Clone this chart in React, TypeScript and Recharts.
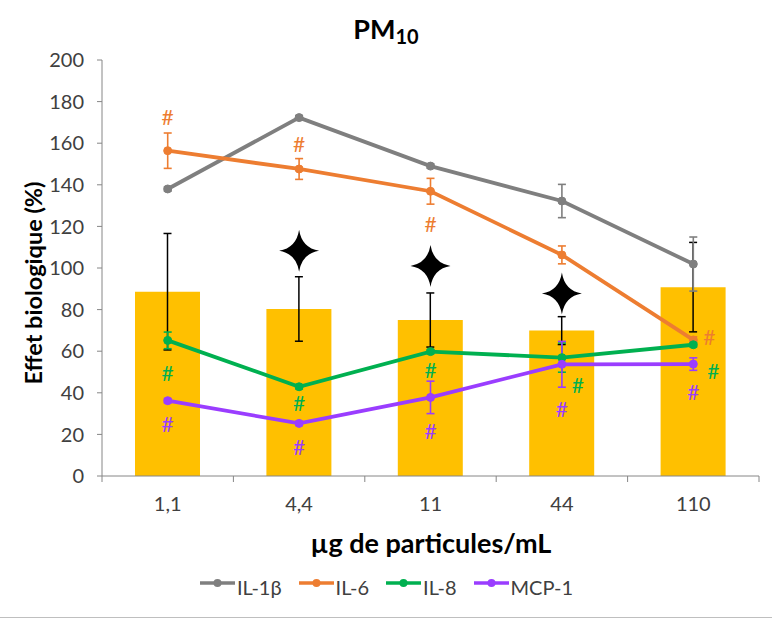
import React from 'react';
import { ComposedChart, Bar, Line, Scatter, XAxis, YAxis, ErrorBar } from 'recharts';

const categories = ['1,1', '4,4', '11', '44', '110'];
const barValues = [88.6, 80.3, 75, 69.9, 90.8];
const barErrors = [28, 15.5, 13, 6.7, 21.5];
const il1b = [138, 172.3, 149, 132.2, 101.9];
const il1bErr = [1, 1, 1, 8, 13];
const il6 = [156.4, 147.6, 136.9, 106.3, 65.4];
const il6Err = [8.5, 5, 6.2, 4.3, 1.5];
const il8 = [65.2, 42.9, 59.8, 56.9, 63.1];
const il8Err = [4, 1, 1, 7, 1];
const mcp1 = [36.2, 25.3, 37.8, 53.7, 53.8];
const mcp1Err = [1, 1, 7.8, 11, 3];
const stars = [null, 108.3, 101, 87.8, null];
const hashIl6 = [173, 160, 121.5, null, 67];
const hashIl8 = [50, 35.3, 51.3, 44.2, 50.6];
const hashMcp1 = [25.3, 14.4, 21.8, 32.5, 40.5];
const yTicks = [0, 20, 40, 60, 80, 100, 120, 140, 160, 180, 200];

const seriesNames = ['IL-1β', 'IL-6', 'IL-8', 'MCP-1'];
const COLORS = { il1b: '#7F7F7F', il6: '#ED7D31', il8: '#00B050', mcp1: '#9A3DFF', bar: '#FFC000' };
const legendColors = [COLORS.il1b, COLORS.il6, COLORS.il8, COLORS.mcp1];

// horizontal nudges of "#" marks (style only)
const hashDx: Record<string, number[]> = {
  hashIl6: [0, 0, 0, 0, 16],
  hashIl8: [0, 0, 0, 16, 20],
  hashMcp1: [0, 0, 0, 0, 0],
};

const FONT = 'Lato, "Open Sans", sans-serif';

const data = categories.map((cat, i) => ({
  cat,
  bar: barValues[i],
  barErr: barErrors[i],
  il1b: il1b[i],
  il1bErr: il1bErr[i],
  il6: il6[i],
  il6Err: il6Err[i],
  il8: il8[i],
  il8Err: il8Err[i],
  mcp1: mcp1[i],
  mcp1Err: mcp1Err[i],
  star: stars[i],
  hashIl6: hashIl6[i],
  hashIl8: hashIl8[i],
  hashMcp1: hashMcp1[i],
}));

const makeHash = (key: string, color: string) => (props: any) => {
  const { cx, cy, payload } = props;
  if (!payload || payload[key] == null || cx == null || cy == null) return <g />;
  const idx = categories.indexOf(payload.cat);
  const dx = hashDx[key][idx] || 0;
  return (
    <text x={cx + dx} y={cy} textAnchor="middle" dominantBaseline="central" fill={color} fontSize={21} fontFamily={FONT}>
      #
    </text>
  );
};

const StarShape = (props: any) => {
  const { cx, cy, payload } = props;
  if (!payload || payload.star == null || cx == null || cy == null) return <g />;
  const rx = 20;
  const ry = 21;
  const k = 2.8;
  const d = `M ${cx} ${cy - ry} Q ${cx + k} ${cy - k} ${cx + rx} ${cy} Q ${cx + k} ${cy + k} ${cx} ${cy + ry} Q ${cx - k} ${cy + k} ${cx - rx} ${cy} Q ${cx - k} ${cy - k} ${cx} ${cy - ry} Z`;
  return <path d={d} fill="#000" />;
};

const XTick = (props: any) => {
  const { x, y, payload, index } = props;
  const off = payload && payload.offset ? payload.offset : 65.6;
  const last = index === categories.length - 1;
  return (
    <g>
      <line x1={x - off} x2={x - off} y1={y} y2={y + 6} stroke="#868686" strokeWidth={1} />
      {last && <line x1={x + off} x2={x + off} y1={y} y2={y + 6} stroke="#868686" strokeWidth={1} />}
      <text x={x} y={y + 27} textAnchor="middle" dominantBaseline="central" fill="#404040" fontSize={20} fontFamily={FONT}>
        {payload.value}
      </text>
    </g>
  );
};

export default function App() {
  return (
    <div style={{ position: 'absolute', left: 0, top: 0, width: 772, height: 621, background: '#fff', fontFamily: FONT }}>
      <div style={{ position: 'absolute', left: 0, width: 772, top: 13, textAlign: 'center', fontWeight: 700, fontSize: 27, color: '#000', lineHeight: '32px' }}>
        <span style={{ marginLeft: 0 }}>PM</span>
        <span style={{ fontSize: 20, position: 'relative', top: 5 }}>10</span>
      </div>
      <ComposedChart
        width={772}
        height={540}
        data={data}
        margin={{ top: 60, right: 13, left: 0, bottom: 0 }}
      >
        <XAxis
          dataKey="cat"
          height={64}
          tickLine={false}
          tickSize={0}
          tickMargin={0}
          axisLine={{ stroke: '#868686', strokeWidth: 1 }}
          tick={<XTick />}
          interval={0}
        />
        <YAxis
          width={102}
          domain={[0, 200]}
          ticks={yTicks}
          tickSize={5}
          tickMargin={13}
          interval={0}
          axisLine={{ stroke: '#868686', strokeWidth: 1 }}
          tickLine={{ stroke: '#868686', strokeWidth: 1 }}
          tick={{ fill: '#404040', fontSize: 20, fontFamily: FONT }}
        />
        <Bar dataKey="bar" fill={COLORS.bar} barSize={65} isAnimationActive={false} legendType="none">
          <ErrorBar dataKey="barErr" width={4} stroke="#000" strokeWidth={1.5} />
        </Bar>
        <Line dataKey="il1b" type="linear" stroke={COLORS.il1b} strokeWidth={3.8} dot={{ r: 4, fill: COLORS.il1b, stroke: COLORS.il1b, strokeWidth: 1 }} activeDot={false} isAnimationActive={false}>
          <ErrorBar dataKey="il1bErr" width={4} stroke={COLORS.il1b} strokeWidth={1.6} />
        </Line>
        <Line dataKey="il6" type="linear" stroke={COLORS.il6} strokeWidth={3.8} dot={{ r: 4, fill: COLORS.il6, stroke: COLORS.il6, strokeWidth: 1 }} activeDot={false} isAnimationActive={false}>
          <ErrorBar dataKey="il6Err" width={4} stroke={COLORS.il6} strokeWidth={1.6} />
        </Line>
        <Line dataKey="il8" type="linear" stroke={COLORS.il8} strokeWidth={3.8} dot={{ r: 4, fill: COLORS.il8, stroke: COLORS.il8, strokeWidth: 1 }} activeDot={false} isAnimationActive={false}>
          <ErrorBar dataKey="il8Err" width={4} stroke={COLORS.il8} strokeWidth={1.6} />
        </Line>
        <Line dataKey="mcp1" type="linear" stroke={COLORS.mcp1} strokeWidth={3.8} dot={{ r: 4, fill: COLORS.mcp1, stroke: COLORS.mcp1, strokeWidth: 1 }} activeDot={false} isAnimationActive={false}>
          <ErrorBar dataKey="mcp1Err" width={4} stroke={COLORS.mcp1} strokeWidth={1.6} />
        </Line>
        <Scatter dataKey="star" shape={<StarShape />} isAnimationActive={false} legendType="none" />
        <Scatter dataKey="hashIl6" shape={makeHash('hashIl6', COLORS.il6)} isAnimationActive={false} legendType="none" />
        <Scatter dataKey="hashIl8" shape={makeHash('hashIl8', COLORS.il8)} isAnimationActive={false} legendType="none" />
        <Scatter dataKey="hashMcp1" shape={makeHash('hashMcp1', COLORS.mcp1)} isAnimationActive={false} legendType="none" />
      </ComposedChart>
      <div
        style={{
          position: 'absolute',
          left: 24,
          top: 283,
          width: 0,
          height: 0,
        }}
      >
        <div
          style={{
            position: 'absolute',
            transform: 'translate(-50%, -50%) rotate(-90deg)',
            whiteSpace: 'nowrap',
            fontWeight: 700,
            fontSize: 23.5,
            color: '#000',
            left: 9,
            top: 0,
          }}
        >
          Effet biologique (%)
        </div>
      </div>
      <div style={{ position: 'absolute', left: 103, width: 656, top: 527, textAlign: 'center', fontWeight: 700, fontSize: 27, color: '#000', lineHeight: '32px' }}>
        µg de particules/mL
      </div>
      <div style={{ position: 'absolute', left: 0, width: 772, top: 575, display: 'flex', justifyContent: 'center', alignItems: 'center' }}>
        {seriesNames.map((name, i) => (
          <div key={name} style={{ display: 'flex', alignItems: 'center', marginRight: i < seriesNames.length - 1 ? 16 : 0 }}>
            <svg width={37} height={20} style={{ display: 'block', marginTop: -8 }}>
              <line x1={1} x2={36} y1={10} y2={10} stroke={legendColors[i]} strokeWidth={3.5} />
              <circle cx={18.5} cy={10} r={4} fill={legendColors[i]} />
            </svg>
            <span style={{ fontSize: 20, color: '#404040', marginLeft: 1, lineHeight: '24px' }}>{name}</span>
          </div>
        ))}
      </div>
      <div style={{ position: 'absolute', left: 0, width: 772, top: 617, height: 1, background: '#BFBFBF' }} />
    </div>
  );
}
